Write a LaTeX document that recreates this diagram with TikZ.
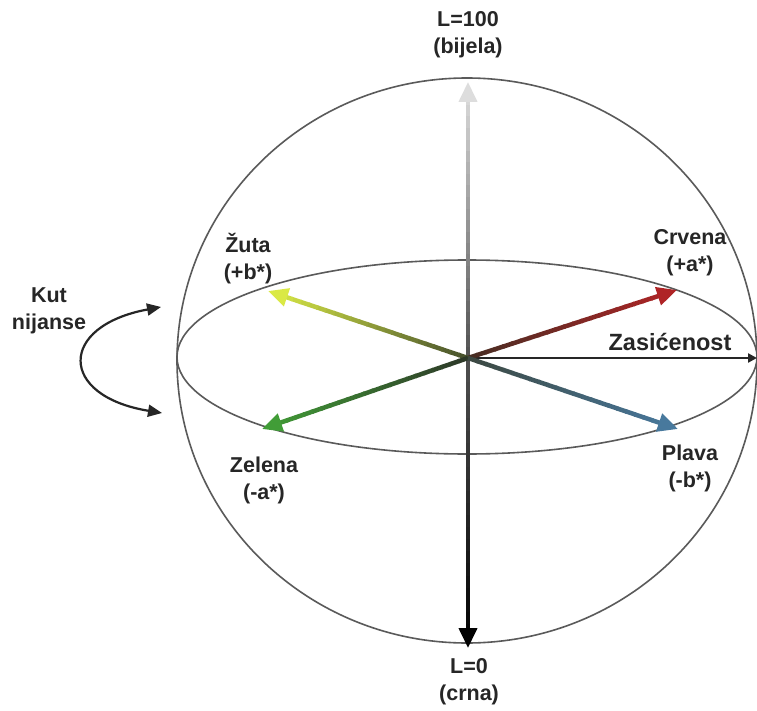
\documentclass[tikz,border=0pt]{standalone}
\usepackage{fontspec}
\setmainfont{Liberation Sans}
\usetikzlibrary{arrows.meta,calc}
\definecolor{redS}{RGB}{70,45,35}
\definecolor{redE}{RGB}{178,36,38}
\definecolor{yelS}{RGB}{70,80,45}
\definecolor{yelE}{RGB}{222,238,70}
\definecolor{grnS}{RGB}{45,55,40}
\definecolor{grnE}{RGB}{66,160,55}
\definecolor{bluS}{RGB}{60,72,65}
\definecolor{bluE}{RGB}{72,122,160}
\definecolor{grayS}{RGB}{80,80,80}
\definecolor{grayT}{RGB}{225,225,225}
\definecolor{grayB}{RGB}{0,0,0}
\definecolor{linegray}{RGB}{90,90,90}
\newcommand\gradarrow[5]{%
  \foreach \k in {0,...,23}{%
    \pgfmathsetmacro\ka{\k/24}%
    \pgfmathsetmacro\kb{min((\k+1.15)/24,1)}%
    \pgfmathtruncatemacro\pc{(\k+0.5)*100/24}%
    \ifnum\k=23
      \draw[line width=#5,#4!\pc!#3,-{Triangle[length=20pt,width=18pt]}] ($(#1)!\ka!(#2)$) -- ($(#1)!\kb!(#2)$);
    \else
      \draw[line width=#5,#4!\pc!#3] ($(#1)!\ka!(#2)$) -- ($(#1)!\kb!(#2)$);
    \fi
  }%
}
\tikzset{
  lbl/.style={font=\fontsize{21.5}{27}\selectfont\bfseries, text=black!85, align=center, inner sep=0pt},
  outline/.style={draw=linegray, line width=1.6pt},
}
\begin{document}
\begin{tikzpicture}[x=1pt,y=-1pt]
\useasboundingbox (0,0) rectangle (757,711);
\fill[white] (0,0) rectangle (757,711);
% sphere and equator
\draw[outline] (467,360.5) ellipse [x radius=290, y radius=282.5];
\draw[outline] (467,357) ellipse [x radius=290, y radius=97];
% coordinates
\coordinate (O) at (468,358);
\coordinate (top) at (468,82);
\coordinate (bot) at (468,648);
\coordinate (cr) at (677,290);
\coordinate (zu) at (268,291);
\coordinate (ze) at (262,429);
\coordinate (pl) at (678,429);
\coordinate (za) at (757,358);
% saturation axis
\draw[line width=2.2pt, black!85, -{Triangle[length=9pt,width=9pt]}] (O) -- (za);
% vertical axis
\gradarrow{O}{top}{grayS}{grayT}{4pt}
\gradarrow{O}{bot}{grayS}{grayB}{4pt}
% colour axes
\gradarrow{O}{cr}{redS}{redE}{4.5pt}
\gradarrow{O}{zu}{yelS}{yelE}{4.5pt}
\gradarrow{O}{ze}{grnS}{grnE}{4.5pt}
\gradarrow{O}{pl}{bluS}{bluE}{4.5pt}
% hue angle arrow
\coordinate (ka) at (161,307);
\coordinate (kb) at (162,413);
\draw[line width=2.2pt, black!85, {Triangle[length=14pt,width=12pt]}-{Triangle[length=14pt,width=12pt]}]
  (ka) .. controls (58,326) and (58,396) .. (kb);
% labels
\node[lbl] (l100) at (468,35) {L=100\\(bijela)};
\node[lbl] (l0) at (469,682) {L=0\\(crna)};
\node[lbl] (zuta) at (248,259) {Žuta\\(+b*)};
\node[lbl] (crv) at (690,253) {Crvena\\(+a*)};
\node[lbl, font=\fontsize{23.5}{27}\selectfont\bfseries] (zas) at (670,342) {Zasićenost};
\node[lbl] (kut) at (49,311) {Kut\\nijanse};
\node[lbl] (zel) at (264,480) {Zelena\\(-a*)};
\node[lbl] (pla) at (690,468) {Plava\\(-b*)};
\end{tikzpicture}
\end{document}
